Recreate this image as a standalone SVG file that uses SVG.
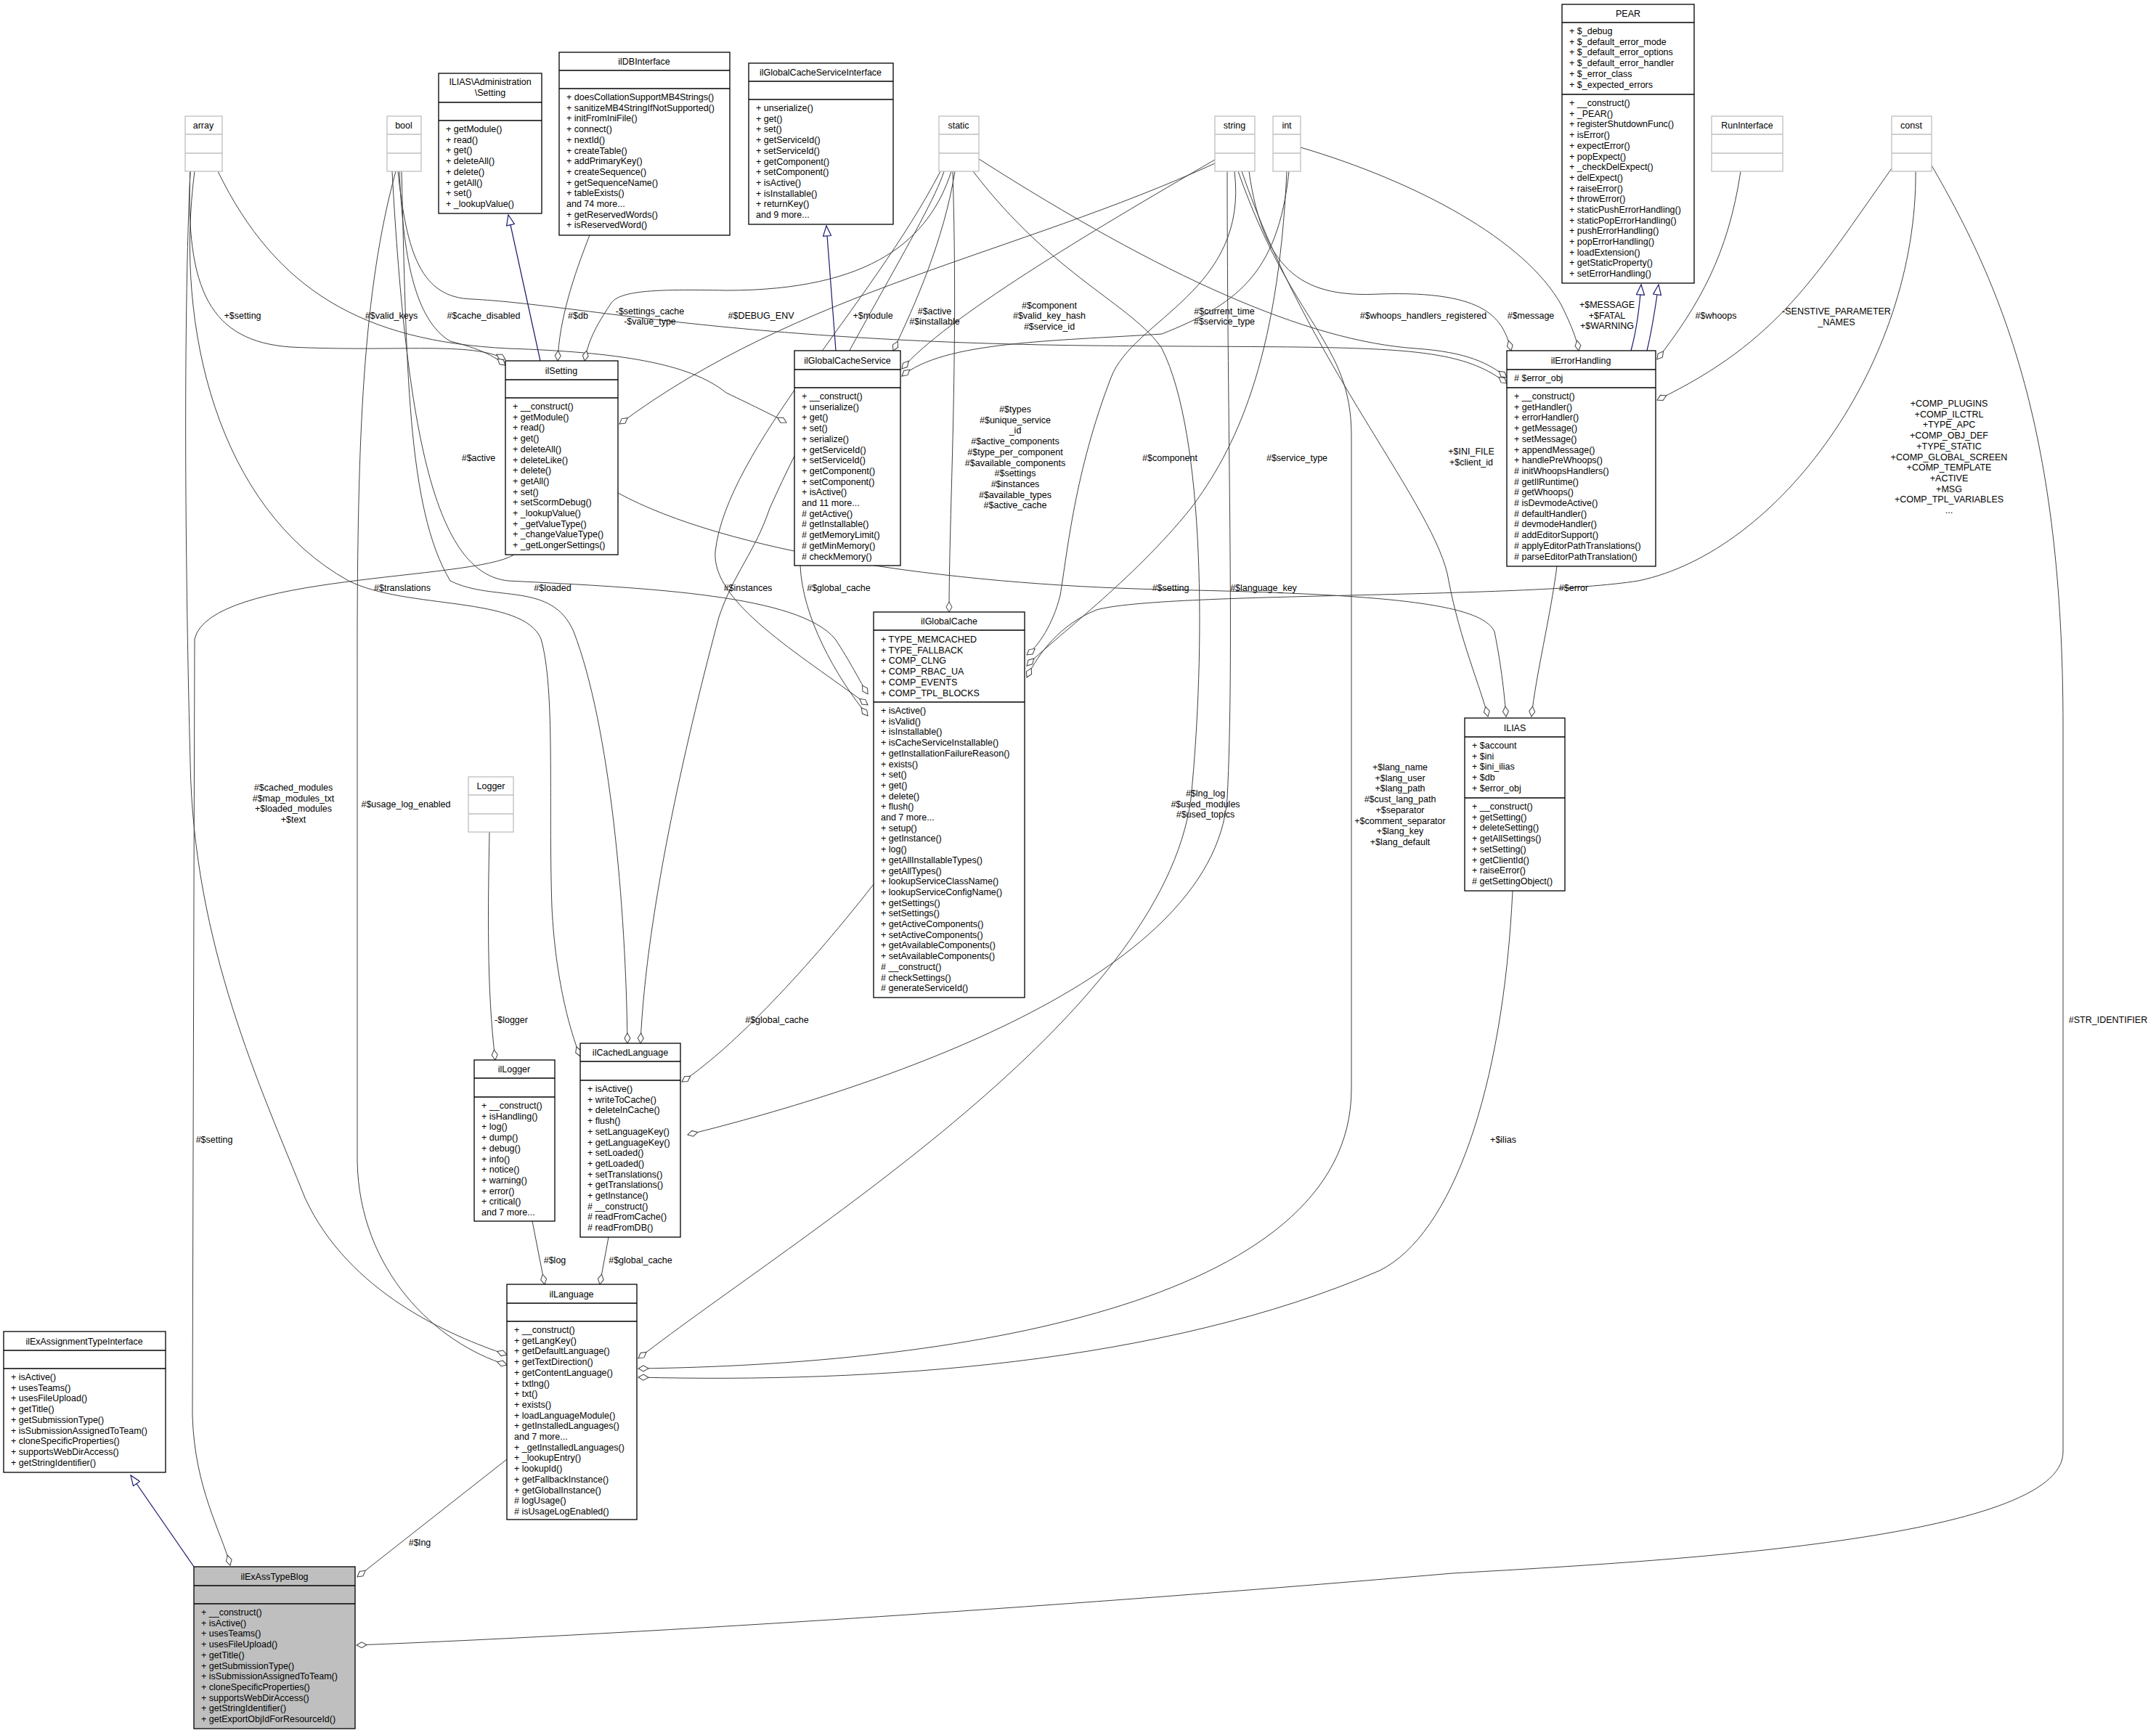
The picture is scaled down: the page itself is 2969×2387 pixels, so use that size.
<svg xmlns="http://www.w3.org/2000/svg" width="2969" height="2387" viewBox="0 0 2969 2387">
<style>
text{font-family:"Liberation Sans",Arial,sans-serif;font-size:12.5px;fill:#000}
.t{text-anchor:middle}
.b{fill:#fff;stroke:#000;stroke-width:1.3}
.g{fill:#fff;stroke:#bfbfbf;stroke-width:1.3}
.sel{fill:#bfbfbf;stroke:#000;stroke-width:1.3}
.l{stroke:#000;stroke-width:1.3}
.lg{stroke:#bfbfbf;stroke-width:1.3}
.e{fill:none;stroke:#404040;stroke-width:1}
.i{fill:none;stroke:#191970;stroke-width:1.2}
.lab{text-anchor:middle}
</style>
<defs>
<marker id="dia" markerUnits="userSpaceOnUse" markerWidth="16" markerHeight="10" viewBox="0 -5 16 10" refX="15" refY="0" orient="auto"><path d="M1,0 L8,-4 L15,0 L8,4 z" fill="#fff" stroke="#404040" stroke-width="1"/></marker>
<marker id="tri" markerUnits="userSpaceOnUse" markerWidth="16" markerHeight="12" viewBox="0 -6 16 12" refX="15" refY="0" orient="auto"><path d="M1,-5.5 L15,0 L1,5.5 z" fill="#fff" stroke="#191970" stroke-width="1.2"/></marker>
</defs>
<rect width="2969" height="2387" fill="#fff"/>

<g id="connectors">
<path class="i" d="M267,2158 L180,2032" marker-end="url(#tri)"/>
<path class="i" d="M744,497 L700,296" marker-end="url(#tri)"/>
<path class="i" d="M1151,483 L1138,311" marker-end="url(#tri)"/>
<path class="i" d="M2246,483 C2255,450 2258,420 2260,392" marker-end="url(#tri)"/>
<path class="i" d="M2268,483 C2276,450 2280,420 2284,392" marker-end="url(#tri)"/>
<path class="e" d="M708,764 C650,800 290,790 268,880 L265,1950 C268,2050 305,2110 317,2156" marker-end="url(#dia)"/>
<path class="e" d="M698,2010 L492,2172" marker-end="url(#dia)"/>
<path class="e" d="M2660,228 C2760,400 2841,600 2841,1000 L2841,2000 C2841,2120 2300,2150 2000,2167 C1500,2210 900,2250 491,2266" marker-end="url(#dia)"/>
<path class="e" d="M733,1682 L750,1769" marker-end="url(#dia)"/>
<path class="e" d="M838,1704 L826,1769" marker-end="url(#dia)"/>
<path class="e" d="M674,1146 C672,1250 670,1360 682,1460" marker-end="url(#dia)"/>
<path class="e" d="M1203,1218 C1100,1350 1000,1450 939,1490" marker-end="url(#dia)"/>
<path class="e" d="M262,236 C250,500 258,900 262,1050 C266,1300 360,1500 420,1650 C480,1780 620,1840 698,1866" marker-end="url(#dia)"/>
<path class="e" d="M545,236 C500,400 492,600 492,900 L492,1600 C495,1750 600,1850 698,1880" marker-end="url(#dia)"/>
<path class="e" d="M268,236 C240,450 300,700 480,800 C560,840 720,820 745,880 C765,950 755,1100 760,1250 C765,1350 785,1420 799,1455" marker-end="url(#dia)"/>
<path class="e" d="M553,236 C560,500 560,700 620,800 C680,830 760,800 790,870 C840,1000 862,1250 864,1437" marker-end="url(#dia)"/>
<path class="e" d="M1300,236 C1280,300 1150,500 1060,700 C1040,760 1010,790 990,850 C950,1000 890,1250 882,1437" marker-end="url(#dia)"/>
<path class="e" d="M1102,779 C1105,850 1150,930 1195,986" marker-end="url(#dia)"/>
<path class="e" d="M1295,236 C1200,420 1000,620 985,760 C980,830 1100,900 1195,971" marker-end="url(#dia)"/>
<path class="e" d="M1312,236 C1320,500 1307,700 1307,843" marker-end="url(#dia)"/>
<path class="e" d="M540,236 C560,600 600,790 700,800 C900,810 1100,820 1150,880 C1170,910 1185,940 1195,956" marker-end="url(#dia)"/>
<path class="e" d="M2638,236 C2640,500 2450,760 2256,800 C2100,825 1600,815 1510,840 C1460,860 1430,900 1414,933" marker-end="url(#dia)"/>
<path class="e" d="M1700,236 C1720,400 1560,440 1530,520 C1480,650 1470,760 1460,820 C1450,860 1430,890 1414,902" marker-end="url(#dia)"/>
<path class="e" d="M1772,236 C1760,500 1700,620 1640,700 C1560,800 1450,880 1414,917" marker-end="url(#dia)"/>
<path class="e" d="M1690,236 C1690,600 1700,900 1690,1100 C1670,1350 1200,1500 947,1563" marker-end="url(#dia)"/>
<path class="e" d="M1340,236 C1450,380 1560,420 1600,480 C1660,600 1660,900 1640,1100 C1600,1400 1100,1700 879,1871" marker-end="url(#dia)"/>
<path class="e" d="M1705,236 C1780,450 1861,470 1861,600 L1861,1500 C1861,1800 1300,1880 879,1885" marker-end="url(#dia)"/>
<path class="e" d="M2083,1227 C2070,1500 2000,1700 1900,1750 C1600,1880 1200,1905 879,1897" marker-end="url(#dia)"/>
<path class="e" d="M851,679 C1000,760 1300,805 1600,812 C1900,818 2040,830 2058,870 C2068,920 2072,960 2074,987" marker-end="url(#dia)"/>
<path class="e" d="M1710,236 C1800,500 1980,700 1995,800 C2010,880 2040,950 2049,987" marker-end="url(#dia)"/>
<path class="e" d="M2144,780 C2135,850 2115,930 2109,987" marker-end="url(#dia)"/>
<path class="e" d="M300,236 C380,400 500,470 700,480 C850,485 950,500 1000,541 C1040,560 1070,575 1083,582" marker-end="url(#dia)"/>
<path class="e" d="M1315,236 C1300,330 1260,420 1230,483" marker-end="url(#dia)"/>
<path class="e" d="M1673,220 C1500,320 1300,440 1242,508" marker-end="url(#dia)"/>
<path class="e" d="M1775,236 C1760,380 1700,420 1600,460 C1450,470 1300,470 1242,518" marker-end="url(#dia)"/>
<path class="e" d="M1673,225 C1400,350 1100,400 853,584" marker-end="url(#dia)"/>
<path class="e" d="M1310,236 C1280,330 1200,400 1000,400 C900,398 850,400 840,420 C820,450 810,470 805,497" marker-end="url(#dia)"/>
<path class="e" d="M548,236 C560,350 580,410 650,412 C800,420 1000,470 1500,476 C1900,480 2000,470 2075,528" marker-end="url(#dia)"/>
<path class="e" d="M1348,219 C1600,380 1800,470 1950,480 C2020,485 2050,500 2075,520" marker-end="url(#dia)"/>
<path class="e" d="M1720,236 C1740,380 1800,410 1900,405 C2050,400 2070,440 2081,483" marker-end="url(#dia)"/>
<path class="e" d="M1791,203 C1950,250 2100,330 2150,420 C2165,450 2172,470 2174,483" marker-end="url(#dia)"/>
<path class="e" d="M2397,236 C2380,350 2340,420 2282,495" marker-end="url(#dia)"/>
<path class="e" d="M2605,232 C2500,380 2450,470 2282,551" marker-end="url(#dia)"/>
<path class="e" d="M262,236 C255,400 290,470 400,478 C550,485 650,470 696,495" marker-end="url(#dia)"/>
<path class="e" d="M550,236 C555,350 570,440 620,470 C660,480 680,490 696,503" marker-end="url(#dia)"/>
<path class="e" d="M812,324 C790,380 770,440 768,497" marker-end="url(#dia)"/>
<text class="lab" x="334" y="439">+$setting</text>
<text class="lab" x="539" y="439">#$valid_keys</text>
<text class="lab" x="666" y="439">#$cache_disabled</text>
<text class="lab" x="796" y="439">#$db</text>
<text class="lab" x="895" y="433">-$settings_cache</text>
<text class="lab" x="895" y="447">-$value_type</text>
<text class="lab" x="659" y="635">#$active</text>
<text class="lab" x="1048" y="439">#$DEBUG_ENV</text>
<text class="lab" x="1202" y="439">+$module</text>
<text class="lab" x="1287" y="433">#$active</text>
<text class="lab" x="1287" y="447">#$installable</text>
<text class="lab" x="1445" y="425">#$component</text>
<text class="lab" x="1445" y="439">#$valid_key_hash</text>
<text class="lab" x="1445" y="454">#$service_id</text>
<text class="lab" x="1686" y="433">#$current_time</text>
<text class="lab" x="1686" y="447">#$service_type</text>
<text class="lab" x="1960" y="439">#$whoops_handlers_registered</text>
<text class="lab" x="1398" y="568">#$types<tspan x="1398" dy="14.7">#$unique_service</tspan><tspan x="1398" dy="14.7">_id</tspan><tspan x="1398" dy="14.7">#$active_components</tspan><tspan x="1398" dy="14.7">#$type_per_component</tspan><tspan x="1398" dy="14.7">#$available_components</tspan><tspan x="1398" dy="14.7">#$settings</tspan><tspan x="1398" dy="14.7">#$instances</tspan><tspan x="1398" dy="14.7">#$available_types</tspan><tspan x="1398" dy="14.7">#$active_cache</tspan></text>
<text class="lab" x="1611" y="635">#$component</text>
<text class="lab" x="1786" y="635">#$service_type</text>
<text class="lab" x="2108" y="439">#$message</text>
<text class="lab" x="2213" y="424">+$MESSAGE<tspan x="2213" dy="14.7">+$FATAL</tspan><tspan x="2213" dy="14.7">+$WARNING</tspan></text>
<text class="lab" x="2363" y="439">#$whoops</text>
<text class="lab" x="2529" y="433">-SENSTIVE_PARAMETER<tspan x="2529" dy="14.7">_NAMES</tspan></text>
<text class="lab" x="2026" y="626">+$INI_FILE<tspan x="2026" dy="14.7">+$client_id</tspan></text>
<text class="lab" x="2684" y="560">+COMP_PLUGINS<tspan x="2684" dy="14.7">+COMP_ILCTRL</tspan><tspan x="2684" dy="14.7">+TYPE_APC</tspan><tspan x="2684" dy="14.7">+COMP_OBJ_DEF</tspan><tspan x="2684" dy="14.7">+TYPE_STATIC</tspan><tspan x="2684" dy="14.7">+COMP_GLOBAL_SCREEN</tspan><tspan x="2684" dy="14.7">+COMP_TEMPLATE</tspan><tspan x="2684" dy="14.7">+ACTIVE</tspan><tspan x="2684" dy="14.7">+MSG</tspan><tspan x="2684" dy="14.7">+COMP_TPL_VARIABLES</tspan><tspan x="2684" dy="14.7">...</tspan></text>
<text class="lab" x="554" y="814">#$translations</text>
<text class="lab" x="761" y="814">#$loaded</text>
<text class="lab" x="1030" y="814">#$instances</text>
<text class="lab" x="1155" y="814">#$global_cache</text>
<text class="lab" x="1612" y="814">#$setting</text>
<text class="lab" x="1740" y="814">#$language_key</text>
<text class="lab" x="2167" y="814">#$error</text>
<text class="lab" x="404" y="1089">#$cached_modules<tspan x="404" dy="14.7">#$map_modules_txt</tspan><tspan x="404" dy="14.7">+$loaded_modules</tspan><tspan x="404" dy="14.7">+$text</tspan></text>
<text class="lab" x="559" y="1112">#$usage_log_enabled</text>
<text class="lab" x="1660" y="1097">#$lng_log<tspan x="1660" dy="14.7">#$used_modules</tspan><tspan x="1660" dy="14.7">#$used_topics</tspan></text>
<text class="lab" x="1928" y="1061">+$lang_name<tspan x="1928" dy="14.7">+$lang_user</tspan><tspan x="1928" dy="14.7">+$lang_path</tspan><tspan x="1928" dy="14.7">#$cust_lang_path</tspan><tspan x="1928" dy="14.7">+$separator</tspan><tspan x="1928" dy="14.7">+$comment_separator</tspan><tspan x="1928" dy="14.7">+$lang_key</tspan><tspan x="1928" dy="14.7">+$lang_default</tspan></text>
<text class="lab" x="704" y="1409">-$logger</text>
<text class="lab" x="1070" y="1409">#$global_cache</text>
<text class="lab" x="2903" y="1409">#STR_IDENTIFIER</text>
<text class="lab" x="295" y="1574">#$setting</text>
<text class="lab" x="2070" y="1574">+$ilias</text>
<text class="lab" x="764" y="1740">#$log</text>
<text class="lab" x="882" y="1740">#$global_cache</text>
<text class="lab" x="578" y="2129">#$lng</text>
</g>

<g id="ilExAssTypeBlog">
<rect class="sel" x="267" y="2158" width="222" height="223"/>
<line class="l" x1="267" y1="2184" x2="489" y2="2184"/><line class="l" x1="267" y1="2209" x2="489" y2="2209"/>
<text class="t" x="378" y="2176">ilExAssTypeBlog</text>
<text x="277" y="2225">+ __construct()<tspan x="277" dy="14.7">+ isActive()</tspan><tspan x="277" dy="14.7">+ usesTeams()</tspan><tspan x="277" dy="14.7">+ usesFileUpload()</tspan><tspan x="277" dy="14.7">+ getTitle()</tspan><tspan x="277" dy="14.7">+ getSubmissionType()</tspan><tspan x="277" dy="14.7">+ isSubmissionAssignedToTeam()</tspan><tspan x="277" dy="14.7">+ cloneSpecificProperties()</tspan><tspan x="277" dy="14.7">+ supportsWebDirAccess()</tspan><tspan x="277" dy="14.7">+ getStringIdentifier()</tspan><tspan x="277" dy="14.7">+ getExportObjIdForResourceId()</tspan></text>
</g>

<g id="ilExAssignmentTypeInterface">
<rect class="b" x="5" y="1834" width="223" height="194"/>
<line class="l" x1="5" y1="1860" x2="228" y2="1860"/><line class="l" x1="5" y1="1885" x2="228" y2="1885"/>
<text class="t" x="116" y="1852">ilExAssignmentTypeInterface</text>
<text x="15" y="1901">+ isActive()<tspan x="15" dy="14.7">+ usesTeams()</tspan><tspan x="15" dy="14.7">+ usesFileUpload()</tspan><tspan x="15" dy="14.7">+ getTitle()</tspan><tspan x="15" dy="14.7">+ getSubmissionType()</tspan><tspan x="15" dy="14.7">+ isSubmissionAssignedToTeam()</tspan><tspan x="15" dy="14.7">+ cloneSpecificProperties()</tspan><tspan x="15" dy="14.7">+ supportsWebDirAccess()</tspan><tspan x="15" dy="14.7">+ getStringIdentifier()</tspan></text>
</g>

<g id="ilLanguage">
<rect class="b" x="698" y="1769" width="179" height="324"/>
<line class="l" x1="698" y1="1795" x2="877" y2="1795"/><line class="l" x1="698" y1="1820" x2="877" y2="1820"/>
<text class="t" x="787" y="1787">ilLanguage</text>
<text x="708" y="1836">+ __construct()<tspan x="708" dy="14.7">+ getLangKey()</tspan><tspan x="708" dy="14.7">+ getDefaultLanguage()</tspan><tspan x="708" dy="14.7">+ getTextDirection()</tspan><tspan x="708" dy="14.7">+ getContentLanguage()</tspan><tspan x="708" dy="14.7">+ txtlng()</tspan><tspan x="708" dy="14.7">+ txt()</tspan><tspan x="708" dy="14.7">+ exists()</tspan><tspan x="708" dy="14.7">+ loadLanguageModule()</tspan><tspan x="708" dy="14.7">+ getInstalledLanguages()</tspan><tspan x="708" dy="14.7">and 7 more...</tspan><tspan x="708" dy="14.7">+ _getInstalledLanguages()</tspan><tspan x="708" dy="14.7">+ _lookupEntry()</tspan><tspan x="708" dy="14.7">+ lookupId()</tspan><tspan x="708" dy="14.7">+ getFallbackInstance()</tspan><tspan x="708" dy="14.7">+ getGlobalInstance()</tspan><tspan x="708" dy="14.7"># logUsage()</tspan><tspan x="708" dy="14.7"># isUsageLogEnabled()</tspan></text>
</g>

<g id="ilLogger">
<rect class="b" x="653" y="1460" width="111" height="222"/>
<line class="l" x1="653" y1="1485" x2="764" y2="1485"/><line class="l" x1="653" y1="1511" x2="764" y2="1511"/>
<text class="t" x="708" y="1477">ilLogger</text>
<text x="663" y="1527">+ __construct()<tspan x="663" dy="14.7">+ isHandling()</tspan><tspan x="663" dy="14.7">+ log()</tspan><tspan x="663" dy="14.7">+ dump()</tspan><tspan x="663" dy="14.7">+ debug()</tspan><tspan x="663" dy="14.7">+ info()</tspan><tspan x="663" dy="14.7">+ notice()</tspan><tspan x="663" dy="14.7">+ warning()</tspan><tspan x="663" dy="14.7">+ error()</tspan><tspan x="663" dy="14.7">+ critical()</tspan><tspan x="663" dy="14.7">and 7 more...</tspan></text>
</g>

<g id="Logger">
<rect class="g" x="645" y="1070" width="62" height="76"/>
<line class="lg" x1="645" y1="1095" x2="707" y2="1095"/><line class="lg" x1="645" y1="1121" x2="707" y2="1121"/>
<text class="t" x="676" y="1087">Logger</text>
</g>

<g id="ilCachedLanguage">
<rect class="b" x="799" y="1437" width="138" height="267"/>
<line class="l" x1="799" y1="1462" x2="937" y2="1462"/><line class="l" x1="799" y1="1488" x2="937" y2="1488"/>
<text class="t" x="868" y="1454">ilCachedLanguage</text>
<text x="809" y="1504">+ isActive()<tspan x="809" dy="14.7">+ writeToCache()</tspan><tspan x="809" dy="14.7">+ deleteInCache()</tspan><tspan x="809" dy="14.7">+ flush()</tspan><tspan x="809" dy="14.7">+ setLanguageKey()</tspan><tspan x="809" dy="14.7">+ getLanguageKey()</tspan><tspan x="809" dy="14.7">+ setLoaded()</tspan><tspan x="809" dy="14.7">+ getLoaded()</tspan><tspan x="809" dy="14.7">+ setTranslations()</tspan><tspan x="809" dy="14.7">+ getTranslations()</tspan><tspan x="809" dy="14.7">+ getInstance()</tspan><tspan x="809" dy="14.7"># __construct()</tspan><tspan x="809" dy="14.7"># readFromCache()</tspan><tspan x="809" dy="14.7"># readFromDB()</tspan></text>
</g>

<g id="ilGlobalCache">
<rect class="b" x="1203" y="843" width="208" height="531"/>
<line class="l" x1="1203" y1="868" x2="1411" y2="868"/><line class="l" x1="1203" y1="967" x2="1411" y2="967"/>
<text class="t" x="1307" y="860">ilGlobalCache</text>
<text x="1213" y="885">+ TYPE_MEMCACHED<tspan x="1213" dy="14.7">+ TYPE_FALLBACK</tspan><tspan x="1213" dy="14.7">+ COMP_CLNG</tspan><tspan x="1213" dy="14.7">+ COMP_RBAC_UA</tspan><tspan x="1213" dy="14.7">+ COMP_EVENTS</tspan><tspan x="1213" dy="14.7">+ COMP_TPL_BLOCKS</tspan></text>
<text x="1213" y="983">+ isActive()<tspan x="1213" dy="14.7">+ isValid()</tspan><tspan x="1213" dy="14.7">+ isInstallable()</tspan><tspan x="1213" dy="14.7">+ isCacheServiceInstallable()</tspan><tspan x="1213" dy="14.7">+ getInstallationFailureReason()</tspan><tspan x="1213" dy="14.7">+ exists()</tspan><tspan x="1213" dy="14.7">+ set()</tspan><tspan x="1213" dy="14.7">+ get()</tspan><tspan x="1213" dy="14.7">+ delete()</tspan><tspan x="1213" dy="14.7">+ flush()</tspan><tspan x="1213" dy="14.7">and 7 more...</tspan><tspan x="1213" dy="14.7">+ setup()</tspan><tspan x="1213" dy="14.7">+ getInstance()</tspan><tspan x="1213" dy="14.7">+ log()</tspan><tspan x="1213" dy="14.7">+ getAllInstallableTypes()</tspan><tspan x="1213" dy="14.7">+ getAllTypes()</tspan><tspan x="1213" dy="14.7">+ lookupServiceClassName()</tspan><tspan x="1213" dy="14.7">+ lookupServiceConfigName()</tspan><tspan x="1213" dy="14.7">+ getSettings()</tspan><tspan x="1213" dy="14.7">+ setSettings()</tspan><tspan x="1213" dy="14.7">+ getActiveComponents()</tspan><tspan x="1213" dy="14.7">+ setActiveComponents()</tspan><tspan x="1213" dy="14.7">+ getAvailableComponents()</tspan><tspan x="1213" dy="14.7">+ setAvailableComponents()</tspan><tspan x="1213" dy="14.7"># __construct()</tspan><tspan x="1213" dy="14.7"># checkSettings()</tspan><tspan x="1213" dy="14.7"># generateServiceId()</tspan></text>
</g>

<g id="ILIAS">
<rect class="b" x="2017" y="989" width="138" height="238"/>
<line class="l" x1="2017" y1="1015" x2="2155" y2="1015"/><line class="l" x1="2017" y1="1099" x2="2155" y2="1099"/>
<text class="t" x="2086" y="1007">ILIAS</text>
<text x="2027" y="1031">+ $account<tspan x="2027" dy="14.7">+ $ini</tspan><tspan x="2027" dy="14.7">+ $ini_ilias</tspan><tspan x="2027" dy="14.7">+ $db</tspan><tspan x="2027" dy="14.7">+ $error_obj</tspan></text>
<text x="2027" y="1115">+ __construct()<tspan x="2027" dy="14.7">+ getSetting()</tspan><tspan x="2027" dy="14.7">+ deleteSetting()</tspan><tspan x="2027" dy="14.7">+ getAllSettings()</tspan><tspan x="2027" dy="14.7">+ setSetting()</tspan><tspan x="2027" dy="14.7">+ getClientId()</tspan><tspan x="2027" dy="14.7">+ raiseError()</tspan><tspan x="2027" dy="14.7"># getSettingObject()</tspan></text>
</g>

<g id="ilErrorHandling">
<rect class="b" x="2075" y="483" width="205" height="297"/>
<line class="l" x1="2075" y1="509" x2="2280" y2="509"/><line class="l" x1="2075" y1="534" x2="2280" y2="534"/>
<text class="t" x="2177" y="501">ilErrorHandling</text>
<text x="2085" y="525"># $error_obj</text>
<text x="2085" y="550">+ __construct()<tspan x="2085" dy="14.7">+ getHandler()</tspan><tspan x="2085" dy="14.7">+ errorHandler()</tspan><tspan x="2085" dy="14.7">+ getMessage()</tspan><tspan x="2085" dy="14.7">+ setMessage()</tspan><tspan x="2085" dy="14.7">+ appendMessage()</tspan><tspan x="2085" dy="14.7">+ handlePreWhoops()</tspan><tspan x="2085" dy="14.7"># initWhoopsHandlers()</tspan><tspan x="2085" dy="14.7"># getIlRuntime()</tspan><tspan x="2085" dy="14.7"># getWhoops()</tspan><tspan x="2085" dy="14.7"># isDevmodeActive()</tspan><tspan x="2085" dy="14.7"># defaultHandler()</tspan><tspan x="2085" dy="14.7"># devmodeHandler()</tspan><tspan x="2085" dy="14.7"># addEditorSupport()</tspan><tspan x="2085" dy="14.7"># applyEditorPathTranslations()</tspan><tspan x="2085" dy="14.7"># parseEditorPathTranslation()</tspan></text>
</g>

<g id="PEAR">
<rect class="b" x="2151" y="6" width="182" height="384"/>
<line class="l" x1="2151" y1="31" x2="2333" y2="31"/><line class="l" x1="2151" y1="130" x2="2333" y2="130"/>
<text class="t" x="2242" y="23">PEAR</text>
<text x="2161" y="47">+ $_debug<tspan x="2161" dy="14.7">+ $_default_error_mode</tspan><tspan x="2161" dy="14.7">+ $_default_error_options</tspan><tspan x="2161" dy="14.7">+ $_default_error_handler</tspan><tspan x="2161" dy="14.7">+ $_error_class</tspan><tspan x="2161" dy="14.7">+ $_expected_errors</tspan></text>
<text x="2161" y="146">+ __construct()<tspan x="2161" dy="14.7">+ _PEAR()</tspan><tspan x="2161" dy="14.7">+ registerShutdownFunc()</tspan><tspan x="2161" dy="14.7">+ isError()</tspan><tspan x="2161" dy="14.7">+ expectError()</tspan><tspan x="2161" dy="14.7">+ popExpect()</tspan><tspan x="2161" dy="14.7">+ _checkDelExpect()</tspan><tspan x="2161" dy="14.7">+ delExpect()</tspan><tspan x="2161" dy="14.7">+ raiseError()</tspan><tspan x="2161" dy="14.7">+ throwError()</tspan><tspan x="2161" dy="14.7">+ staticPushErrorHandling()</tspan><tspan x="2161" dy="14.7">+ staticPopErrorHandling()</tspan><tspan x="2161" dy="14.7">+ pushErrorHandling()</tspan><tspan x="2161" dy="14.7">+ popErrorHandling()</tspan><tspan x="2161" dy="14.7">+ loadExtension()</tspan><tspan x="2161" dy="14.7">+ getStaticProperty()</tspan><tspan x="2161" dy="14.7">+ setErrorHandling()</tspan></text>
</g>

<g id="RunInterface">
<rect class="g" x="2357" y="160" width="98" height="76"/>
<line class="lg" x1="2357" y1="185" x2="2455" y2="185"/><line class="lg" x1="2357" y1="211" x2="2455" y2="211"/>
<text class="t" x="2406" y="177">RunInterface</text>
</g>
<g id="const">
<rect class="g" x="2605" y="160" width="55" height="76"/>
<line class="lg" x1="2605" y1="185" x2="2660" y2="185"/><line class="lg" x1="2605" y1="211" x2="2660" y2="211"/>
<text class="t" x="2632" y="177">const</text>
</g>
<g id="int">
<rect class="g" x="1753" y="160" width="38" height="76"/>
<line class="lg" x1="1753" y1="185" x2="1791" y2="185"/><line class="lg" x1="1753" y1="211" x2="1791" y2="211"/>
<text class="t" x="1772" y="177">int</text>
</g>
<g id="string">
<rect class="g" x="1673" y="160" width="55" height="76"/>
<line class="lg" x1="1673" y1="185" x2="1728" y2="185"/><line class="lg" x1="1673" y1="211" x2="1728" y2="211"/>
<text class="t" x="1700" y="177">string</text>
</g>
<g id="static">
<rect class="g" x="1293" y="160" width="55" height="76"/>
<line class="lg" x1="1293" y1="185" x2="1348" y2="185"/><line class="lg" x1="1293" y1="211" x2="1348" y2="211"/>
<text class="t" x="1320" y="177">static</text>
</g>
<g id="bool">
<rect class="g" x="533" y="160" width="47" height="76"/>
<line class="lg" x1="533" y1="185" x2="580" y2="185"/><line class="lg" x1="533" y1="211" x2="580" y2="211"/>
<text class="t" x="556" y="177">bool</text>
</g>
<g id="array">
<rect class="g" x="255" y="160" width="51" height="76"/>
<line class="lg" x1="255" y1="185" x2="306" y2="185"/><line class="lg" x1="255" y1="211" x2="306" y2="211"/>
<text class="t" x="280" y="177">array</text>
</g>

<g id="ilGlobalCacheServiceInterface">
<rect class="b" x="1031" y="87" width="199" height="222"/>
<line class="l" x1="1031" y1="112" x2="1230" y2="112"/><line class="l" x1="1031" y1="137" x2="1230" y2="137"/>
<text class="t" x="1130" y="104">ilGlobalCacheServiceInterface</text>
<text x="1041" y="153">+ unserialize()<tspan x="1041" dy="14.7">+ get()</tspan><tspan x="1041" dy="14.7">+ set()</tspan><tspan x="1041" dy="14.7">+ getServiceId()</tspan><tspan x="1041" dy="14.7">+ setServiceId()</tspan><tspan x="1041" dy="14.7">+ getComponent()</tspan><tspan x="1041" dy="14.7">+ setComponent()</tspan><tspan x="1041" dy="14.7">+ isActive()</tspan><tspan x="1041" dy="14.7">+ isInstallable()</tspan><tspan x="1041" dy="14.7">+ returnKey()</tspan><tspan x="1041" dy="14.7">and 9 more...</tspan></text>
</g>

<g id="ilGlobalCacheService">
<rect class="b" x="1094" y="483" width="146" height="296"/>
<line class="l" x1="1094" y1="509" x2="1240" y2="509"/><line class="l" x1="1094" y1="534" x2="1240" y2="534"/>
<text class="t" x="1167" y="501">ilGlobalCacheService</text>
<text x="1104" y="550">+ __construct()<tspan x="1104" dy="14.7">+ unserialize()</tspan><tspan x="1104" dy="14.7">+ get()</tspan><tspan x="1104" dy="14.7">+ set()</tspan><tspan x="1104" dy="14.7">+ serialize()</tspan><tspan x="1104" dy="14.7">+ getServiceId()</tspan><tspan x="1104" dy="14.7">+ setServiceId()</tspan><tspan x="1104" dy="14.7">+ getComponent()</tspan><tspan x="1104" dy="14.7">+ setComponent()</tspan><tspan x="1104" dy="14.7">+ isActive()</tspan><tspan x="1104" dy="14.7">and 11 more...</tspan><tspan x="1104" dy="14.7"># getActive()</tspan><tspan x="1104" dy="14.7"># getInstallable()</tspan><tspan x="1104" dy="14.7"># getMemoryLimit()</tspan><tspan x="1104" dy="14.7"># getMinMemory()</tspan><tspan x="1104" dy="14.7"># checkMemory()</tspan></text>
</g>

<g id="ilDBInterface">
<rect class="b" x="770" y="72" width="235" height="252"/>
<line class="l" x1="770" y1="97" x2="1005" y2="97"/><line class="l" x1="770" y1="122" x2="1005" y2="122"/>
<text class="t" x="887" y="89">ilDBInterface</text>
<text x="780" y="138">+ doesCollationSupportMB4Strings()<tspan x="780" dy="14.7">+ sanitizeMB4StringIfNotSupported()</tspan><tspan x="780" dy="14.7">+ initFromIniFile()</tspan><tspan x="780" dy="14.7">+ connect()</tspan><tspan x="780" dy="14.7">+ nextId()</tspan><tspan x="780" dy="14.7">+ createTable()</tspan><tspan x="780" dy="14.7">+ addPrimaryKey()</tspan><tspan x="780" dy="14.7">+ createSequence()</tspan><tspan x="780" dy="14.7">+ getSequenceName()</tspan><tspan x="780" dy="14.7">+ tableExists()</tspan><tspan x="780" dy="14.7">and 74 more...</tspan><tspan x="780" dy="14.7">+ getReservedWords()</tspan><tspan x="780" dy="14.7">+ isReservedWord()</tspan></text>
</g>

<g id="ILIAS_Administration_Setting">
<rect class="b" x="604" y="101" width="142" height="193"/>
<line class="l" x1="604" y1="141" x2="746" y2="141"/><line class="l" x1="604" y1="166" x2="746" y2="166"/>
<text class="t" x="675" y="117">ILIAS\Administration<tspan x="675" dy="15">\Setting</tspan></text>
<text x="614" y="182">+ getModule()<tspan x="614" dy="14.7">+ read()</tspan><tspan x="614" dy="14.7">+ get()</tspan><tspan x="614" dy="14.7">+ deleteAll()</tspan><tspan x="614" dy="14.7">+ delete()</tspan><tspan x="614" dy="14.7">+ getAll()</tspan><tspan x="614" dy="14.7">+ set()</tspan><tspan x="614" dy="14.7">+ _lookupValue()</tspan></text>
</g>

<g id="ilSetting">
<rect class="b" x="696" y="497" width="155" height="267"/>
<line class="l" x1="696" y1="523" x2="851" y2="523"/><line class="l" x1="696" y1="548" x2="851" y2="548"/>
<text class="t" x="773" y="515">ilSetting</text>
<text x="706" y="564">+ __construct()<tspan x="706" dy="14.7">+ getModule()</tspan><tspan x="706" dy="14.7">+ read()</tspan><tspan x="706" dy="14.7">+ get()</tspan><tspan x="706" dy="14.7">+ deleteAll()</tspan><tspan x="706" dy="14.7">+ deleteLike()</tspan><tspan x="706" dy="14.7">+ delete()</tspan><tspan x="706" dy="14.7">+ getAll()</tspan><tspan x="706" dy="14.7">+ set()</tspan><tspan x="706" dy="14.7">+ setScormDebug()</tspan><tspan x="706" dy="14.7">+ _lookupValue()</tspan><tspan x="706" dy="14.7">+ _getValueType()</tspan><tspan x="706" dy="14.7">+ _changeValueType()</tspan><tspan x="706" dy="14.7">+ _getLongerSettings()</tspan></text>
</g>
</svg>
